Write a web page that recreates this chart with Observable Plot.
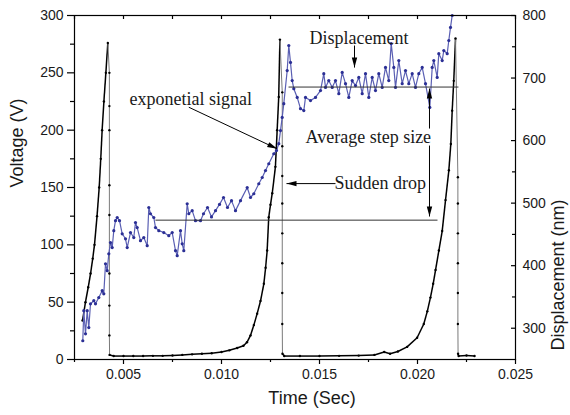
<!DOCTYPE html>
<html><head><meta charset="utf-8">
<script src="https://cdn.jsdelivr.net/npm/d3@7"></script>
<script src="https://cdn.jsdelivr.net/npm/@observablehq/plot@0.6"></script>
<style>body{margin:0;background:#fff}</style>
</head><body><div id="chart"></div>
<script>
// ---- data ----
const voltTime = [
  0.00291,0.00306,0.00320,0.00332,0.00343,0.00352,0.00365,0.00376,0.00384,0.00391,
  0.00400,0.00410,0.00420,
  0.00428,0.00428,0.00428,0.00428,0.00428,0.00428,0.00428,0.00428,0.00429,
  0.00450,0.00500,0.00550,0.00600,0.00650,0.00700,0.00750,0.00800,0.00850,0.00900,
  0.00950,0.01000,0.01040,0.01080,0.01112,0.01130,0.01148,0.01165,0.01182,0.01199,
  0.01216,0.01225,0.01233,0.01241,0.01250,0.01259,0.01275,0.01284,0.01292,0.01298,
  0.01310,0.01310,0.01310,0.01310,0.01310,0.01310,0.01310,0.01310,0.01311,
  0.01320,0.01400,0.01500,0.01600,0.01700,0.01780,0.01830,0.01860,0.01900,0.01947,
  0.01998,0.02032,0.02050,0.02066,0.02080,0.02092,0.02109,0.02126,0.02143,0.02160,
  0.02170,0.02177,0.02185,0.02194,
  0.02206,0.02206,0.02206,0.02206,0.02206,0.02206,0.02207,
  0.02210,0.02250,0.02291
];
const voltValue = [
  34,50,63,75,88,100,125,150,175,200,
  225,250,276,
  250,221,200,152,126,75,47,21,4,
  3,3,3,3,3.2,3.2,3.5,4,4.5,5,
  5.5,6.5,8,10,12,15,21,30,40,51,
  66,80,95,124,135,145,168,200,229,279,
  233,186,160,136,110,84,58,31,5,
  3,3,3,3.2,3.4,4,6.5,5,7,11,
  19,31,42,54,66,78,95,112,139,165,
  188,217,243,280,
  159,136,110,84,58,31,5,
  3,3.5,3
];
const dispTime = [
  0.002923,0.002974,0.003061,0.003148,0.003230,0.003316,0.003485,0.003571,0.003740,0.003913,
  0.003995,0.004082,0.004168,0.004250,0.004337,0.004423,0.004505,0.004592,0.004679,0.004796,
  0.004934,0.005102,0.005189,0.005357,0.005525,0.005612,0.005699,0.005867,0.006036,0.006209,
  0.006291,0.006378,0.006546,0.006633,0.006801,0.007056,0.007311,0.007485,0.007653,0.007740,
  0.007908,0.007995,0.008076,0.008250,0.008332,0.008505,0.008673,0.008929,0.009082,0.009286,
  0.009490,0.009694,0.009898,0.010102,0.010306,0.010510,0.010714,0.010969,0.011311,0.011480,
  0.011648,0.011903,0.012077,0.012245,0.012413,0.012668,0.012806,0.012923,0.013010,0.013097,
  0.013178,0.013352,0.013433,0.013520,0.013607,0.013689,0.013862,0.014031,0.014199,0.014286,
  0.014541,0.014796,0.015051,0.015219,0.015306,0.015474,0.015648,0.015816,0.015985,0.016158,
  0.016327,0.016495,0.016668,0.016837,0.017005,0.017179,0.017347,0.017515,0.017689,0.017857,
  0.018025,0.018199,0.018367,0.018535,0.018658,0.018791,0.018878,0.019046,0.019219,0.019388,
  0.019556,0.019729,0.019898,0.020066,0.020240,0.020408,0.020628,0.020750,0.020832,0.021005,
  0.021087,0.021260,0.021342,0.021515,0.021597,0.021684,0.021770
];
const dispValue = [
  280,328,291,328,301,339,344,339,349,360,
  355,403,392,419,437,429,456,472,477,472,
  451,443,429,453,445,469,461,440,445,432,
  493,483,477,461,456,453,448,453,424,416,
  456,435,424,499,483,488,472,472,483,493,
  478,488,498,509,493,504,488,504,525,509,
  515,531,541,552,563,579,584,595,616,637,
  659,712,752,725,696,683,669,651,648,669,
  664,669,680,707,685,696,685,696,675,709,
  691,669,696,688,701,675,707,669,701,680,
  707,685,717,696,755,717,685,728,691,712,
  691,707,685,707,717,691,653,717,728,701,
  739,728,744,739,760,781,800
];
const voltTicks = [0,50,100,150,200,250,300];
const voltMinorTicks = [25,75,125,175,225,275];
const timeTicks = [0.005,0.010,0.015,0.020,0.025];
const timeMinorTicks = [0.0025,0.0075,0.0125,0.0175,0.0225];
const dispTicks = [300,400,500,600,700,800];
const dispMinorTicks = [350,450,550,650,750];
const stepLevel = [472.8, 685.6];
const stepStart = [0.00663, 0.01342];
const stepEnd = [0.02102, 0.02209];
const noteText = ["exponetial signal","Displacement","Average step size","Sudden drop"];
const noteTime = [0.005306, 0.01449, 0.014286, 0.015765];
const noteVolt = [227.4, 280.6, 194.2, 153.3];
const arrowT1 = [0.008332, 0.016786, 0.020612, 0.020612, 0.015816];
const arrowV1 = [220, 273.8, 201.4, 186.6, 153.4];
const arrowT2 = [0.012842, 0.016786, 0.020612, 0.020612, 0.013316];
const arrowV2 = [183.7, 254.6, 236.3, 124.7, 153.4];

// ---- layout ----
const W = 570, H = 415, mL = 74, mR = 55, mT = 15, mB = 56;
const pw = W - mL - mR, ph = H - mT - mB;
const xDomain = [0.0025, 0.025], yDomain = [0, 300];
const dispDomain = [250, 800];
const toVolt = nm => (nm - dispDomain[0]) * (yDomain[1] - yDomain[0]) / (dispDomain[1] - dispDomain[0]);

const voltPts = voltTime.map((t, i) => ({t, v: voltValue[i]}));
const segs = d3.pairs(voltPts).map(([a, b]) => ({t1: a.t, v1: a.v, t2: b.t, v2: b.v, drop: b.v < a.v - 15}));
const dispPts = dispTime.map((t, i) => ({t, v: toVolt(dispValue[i])}));
const steps = stepLevel.map((l, i) => ({t1: stepStart[i], t2: stepEnd[i], v: toVolt(l)}));
const notes = noteText.map((s, i) => ({s, t: noteTime[i], v: noteVolt[i]}));
const arrows = arrowT1.map((t, i) => ({t1: t, v1: arrowV1[i], t2: arrowT2[i], v2: arrowV2[i]}));

const xs = d3.scaleLinear(xDomain, [mL, W - mR]);
const ys = d3.scaleLinear(yDomain, [H - mB, mT]);
const angle = d => Math.atan2(xs(d.t2) - xs(d.t1), -(ys(d.v2) - ys(d.v1))) * 180 / Math.PI;
const arrowHead = {draw(ctx) { ctx.moveTo(0, 0); ctx.lineTo(-2.7, 10); ctx.lineTo(2.7, 10); ctx.closePath(); }};

const ink = "#1a1a1a";
const chart = Plot.plot({
  width: W, height: H, marginLeft: mL, marginRight: mR, marginTop: mT, marginBottom: mB,
  x: {domain: xDomain, axis: null},
  y: {domain: yDomain, axis: null},
  style: {fontFamily: "'Liberation Sans', Arial, sans-serif", fontSize: "14px", background: "#fff", color: ink, overflow: "visible"},
  marks: [
    // black voltage signal
    Plot.link(segs.filter(s => !s.drop), {x1: "t1", y1: "v1", x2: "t2", y2: "v2", stroke: "black", strokeWidth: 1.5}),
    Plot.link(segs.filter(s => s.drop), {x1: "t1", y1: "v1", x2: "t2", y2: "v2", stroke: "#7a7a7a", strokeWidth: 1}),
    Plot.dot(voltPts, {x: "t", y: "v", r: 1.2, fill: "black"}),
    // blue displacement
    Plot.line(dispPts, {x: "t", y: "v", stroke: "#5a5fb3", strokeWidth: 1.2}),
    Plot.dot(dispPts, {x: "t", y: "v", r: 1.6, fill: "#2b2f95"}),
    // average step lines
    Plot.link(steps, {x1: "t1", x2: "t2", y1: "v", y2: "v", stroke: "#333", strokeWidth: 1}),
    // arrows
    Plot.link(arrows, {x1: "t1", y1: "v1", x2: "t2", y2: "v2", stroke: "black", strokeWidth: 1}),
    Plot.dot(arrows, {x: "t2", y: "v2", symbol: arrowHead, r: 4, fill: "black", stroke: "none", rotate: angle}),
    // annotations
    Plot.text(notes, {x: "t", y: "v", text: "s", textAnchor: "start", fontFamily: "'Liberation Serif', 'Times New Roman', serif", fontSize: 18, fill: ink}),
    // frame
    Plot.frame({stroke: "black", strokeWidth: 1.2}),
    // left axis ticks
    Plot.tickY(voltTicks, {y: d => d, insetRight: pw + 7, stroke: "black", strokeWidth: 1.2}),
    Plot.tickY(voltMinorTicks, {y: d => d, insetRight: pw + 4, stroke: "black", strokeWidth: 1.2}),
    Plot.text(voltTicks, {y: d => d, frameAnchor: "left", dx: -11, textAnchor: "end", text: d => String(d), fill: ink}),
    // bottom axis ticks
    Plot.tickX(timeTicks, {x: d => d, insetTop: ph + 5, stroke: "black", strokeWidth: 1.2}),
    Plot.tickX(timeMinorTicks, {x: d => d, insetTop: ph + 3, stroke: "black", strokeWidth: 1.2}),
    Plot.text(timeTicks, {x: d => d, frameAnchor: "bottom", dy: 19, text: d => d.toFixed(3), fill: ink}),
    // top inward ticks
    Plot.tickX(timeTicks.concat(timeMinorTicks), {x: d => d, insetBottom: ph - 4, stroke: "black", strokeWidth: 1.2}),
    // right axis (displacement) inward ticks
    Plot.tickY(dispTicks, {y: d => toVolt(d), insetLeft: pw - 4, stroke: "black", strokeWidth: 1.2}),
    Plot.tickY(dispMinorTicks, {y: d => toVolt(d), insetLeft: pw - 3, stroke: "black", strokeWidth: 1.2}),
    Plot.text(dispTicks, {y: d => toVolt(d), frameAnchor: "right", dx: 7, textAnchor: "start", text: d => String(d), fill: ink}),
    // axis titles
    Plot.text(["Voltage (V)"], {frameAnchor: "left", dx: -57, rotate: -90, fontSize: 18, fill: ink}),
    Plot.text(["Displacement (nm)"], {frameAnchor: "right", dx: 43, dy: 12, rotate: -90, fontSize: 18, fill: ink}),
    Plot.text(["Time (Sec)"], {frameAnchor: "bottom", dy: 44, dx: 17, fontSize: 18, fill: ink})
  ]
});
document.getElementById("chart").appendChild(chart);
</script></body></html>
